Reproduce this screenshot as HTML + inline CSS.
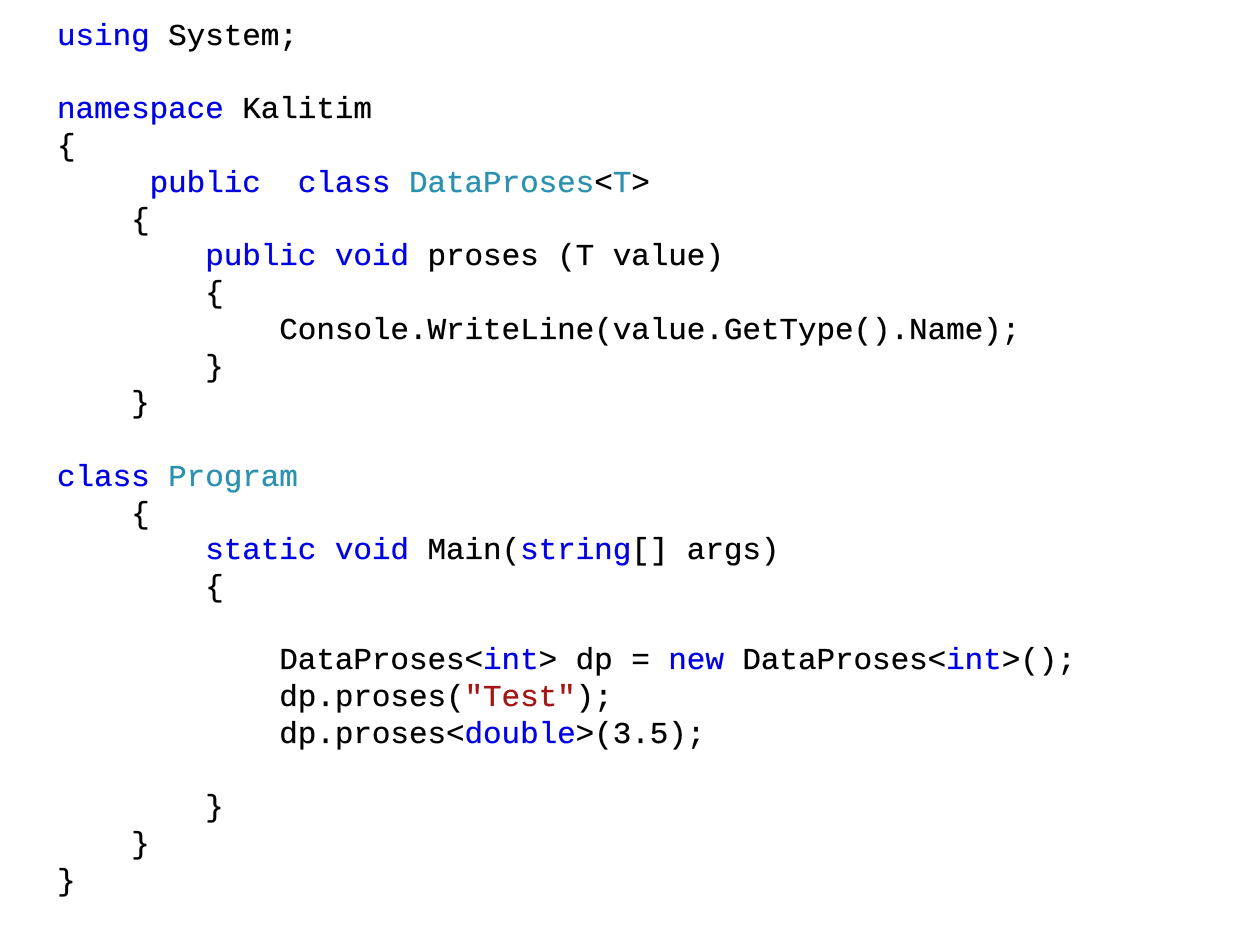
<!DOCTYPE html>
<html><head><meta charset="utf-8"><style>
html,body{margin:0;padding:0;background:#fff;width:1257px;height:937px;overflow:hidden}
pre{position:absolute;left:57px;top:20px;margin:0;font-family:"Liberation Mono",monospace;font-size:31px;line-height:36.74px;color:#000;letter-spacing:-0.08px;-webkit-text-stroke:0.3px currentColor}
.k{color:#0000e6}.t{color:#2b91af}.s{color:#a31515}
</style></head><body>
<pre><span class="k">using</span> System;

<span class="k">namespace</span> Kalitim
{
     <span class="k">public</span>  <span class="k">class</span> <span class="t">DataProses</span>&lt;<span class="t">T</span>&gt;
    {
        <span class="k">public</span> <span class="k">void</span> proses (T value)
        {
            Console.WriteLine(value.GetType().Name);
        }
    }

<span class="k">class</span> <span class="t">Program</span>
    {
        <span class="k">static</span> <span class="k">void</span> Main(<span class="k">string</span>[] args)
        {

            DataProses&lt;<span class="k">int</span>&gt; dp = <span class="k">new</span> DataProses&lt;<span class="k">int</span>&gt;();
            dp.proses(<span class="s">"Test"</span>);
            dp.proses&lt;<span class="k">double</span>&gt;(3.5);

        }
    }
}</pre>
</body></html>
